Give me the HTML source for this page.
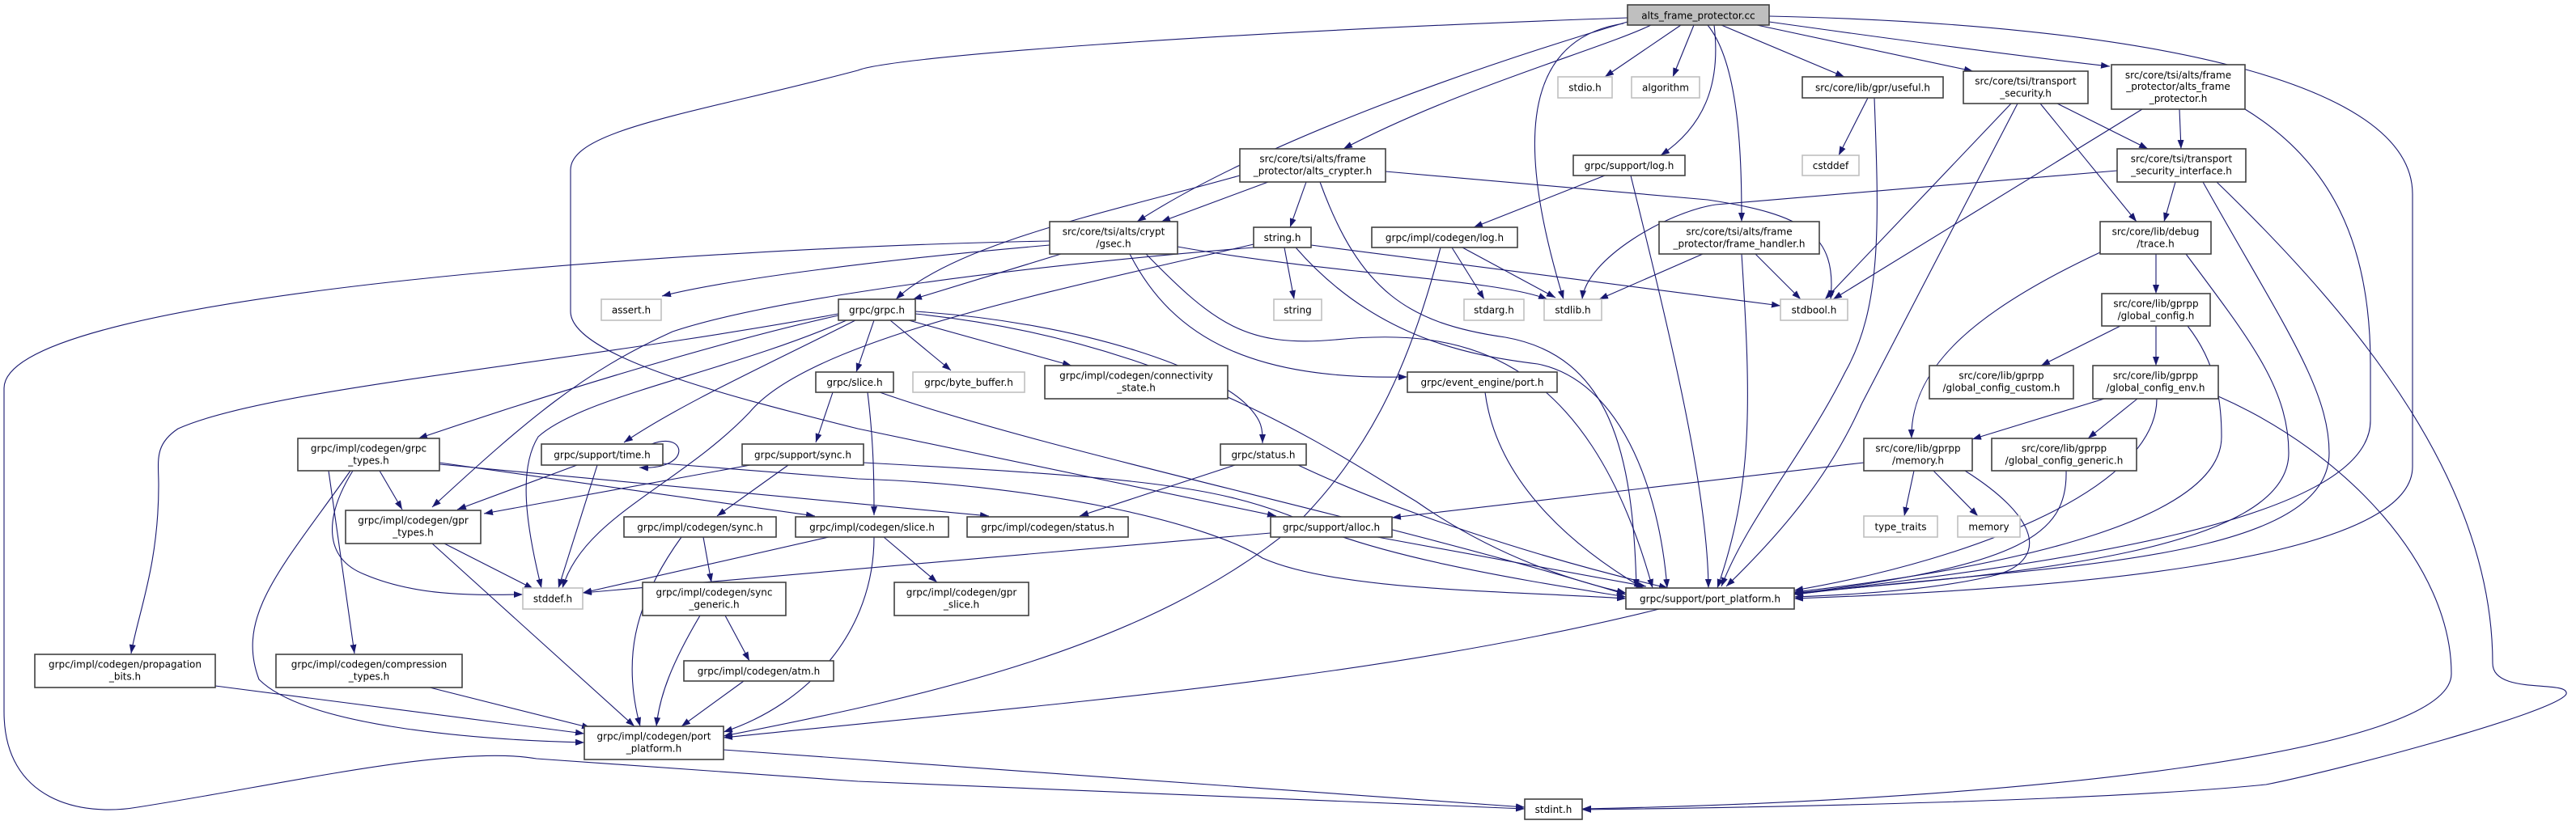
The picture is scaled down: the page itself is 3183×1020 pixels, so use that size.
<!DOCTYPE html>
<html><head><meta charset="utf-8"><style>
html,body{margin:0;padding:0;background:#fff;}
svg{display:block;}
text{font-family:"DejaVu Sans","Liberation Sans",sans-serif;font-size:12px;fill:#000;text-anchor:middle;}
.n{fill:#fff;stroke:#404040;stroke-width:1.6;}
.g{fill:#fff;stroke:#bfbfbf;stroke-width:1.6;}
.e{fill:none;stroke:#191970;stroke-width:1.1;marker-end:url(#a);}
</style></head><body>
<svg width="3183" height="1020" viewBox="0 0 3183 1020" xmlns="http://www.w3.org/2000/svg">
<defs><marker id="a" markerUnits="userSpaceOnUse" markerWidth="11" markerHeight="8" refX="11" refY="4" orient="auto"><path d="M0,0 L11,4 L0,8 z" fill="#191970"/></marker></defs>
<g>
<path class="e" d="M2077,31 L1983,95"/>
<path class="e" d="M2093,31 L2067,95"/>
<path class="e" d="M2040,31 C1980,60 1800,110 1660,184"/>
<path class="e" d="M2011,27 C1800,90 1550,180 1405,274"/>
<path class="e" d="M2118,31 C2125,90 2115,150 2052,192"/>
<path class="e" d="M2006,29 C1870,50 1880,200 1932,370"/>
<path class="e" d="M2127,31 L2279,95"/>
<path class="e" d="M2171,31 L2438,88"/>
<path class="e" d="M2186,27 C2350,50 2500,70 2607,82"/>
<path class="e" d="M2110,31 C2150,80 2152,200 2152,274"/>
<path class="e" d="M2186,20 C2650,30 2981,100 2981,240 L2981,577 C2981,700 2500,730 2217,740"/>
<path class="e" d="M2011,22 C1500,40 1100,70 1060,87 C860,140 705,160 705,210 L705,385 C705,440 900,490 1060,530 L1577,638"/>
<path class="e" d="M1567,225 L1435,274"/>
<path class="e" d="M1532,217 C1380,260 1180,300 1107,370"/>
<path class="e" d="M1614,225 L1594,281"/>
<path class="e" d="M1712,212 L2110,247 C2230,265 2270,290 2262,370"/>
<path class="e" d="M1631,225 C1680,360 1740,400 1860,417 C1990,440 2018,560 2022,727"/>
<path class="e" d="M1297,298 C900,305 5,360 5,480 L5,880 C5,990 100,1010 170,998 C350,970 560,920 663,938 L1060,966 L1884,1000"/>
<path class="e" d="M1297,303 C1100,320 900,345 818,366"/>
<path class="e" d="M1311,314 L1128,370"/>
<path class="e" d="M1455,305 C1650,340 1850,345 1912,370"/>
<path class="e" d="M1396,314 C1450,420 1550,470 1739,466"/>
<path class="e" d="M1416,314 C1500,400 1540,430 1650,420 C1800,405 1960,430 2042,727"/>
<path class="e" d="M1587,306 L1599,370"/>
<path class="e" d="M1549,302 C1300,360 1000,420 926,510 C840,600 720,640 695,727"/>
<path class="e" d="M1549,306 C1250,330 950,370 831,410 C720,460 650,520 534,627"/>
<path class="e" d="M1620,303 L2200,378"/>
<path class="e" d="M1601,306 C1700,420 1820,440 1900,450 C2000,470 2050,600 2060,727"/>
<path class="e" d="M1794,306 L1834,370"/>
<path class="e" d="M1807,306 L1922,368"/>
<path class="e" d="M1780,306 C1740,460 1690,560 1600,650 C1420,800 1150,860 894,910"/>
<path class="e" d="M1983,217 L1821,281"/>
<path class="e" d="M2015,217 C2060,400 2110,600 2111,727"/>
<path class="e" d="M2104,314 L1976,370"/>
<path class="e" d="M2169,314 L2225,370"/>
<path class="e" d="M2152,314 C2164,500 2166,600 2122,727"/>
<path class="e" d="M2308,121 L2272,192"/>
<path class="e" d="M2316,121 C2322,280 2325,380 2280,460 C2230,560 2160,640 2127,725"/>
<path class="e" d="M2485,128 L2255,370"/>
<path class="e" d="M2493,128 L2300,500 C2260,590 2200,660 2133,725"/>
<path class="e" d="M2542,128 L2654,184"/>
<path class="e" d="M2521,128 L2640,274"/>
<path class="e" d="M2647,135 L2265,370"/>
<path class="e" d="M2693,135 L2695,184"/>
<path class="e" d="M2774,135 C2880,200 2929,300 2929,450 L2929,520 C2929,650 2500,700 2217,735"/>
<path class="e" d="M2616,211 L2120,253 C2060,262 1960,320 1955,370"/>
<path class="e" d="M2688,225 L2674,274"/>
<path class="e" d="M2722,225 C2820,400 2878,480 2878,560 C2878,700 2500,700 2217,735"/>
<path class="e" d="M2739,225 C2920,400 3080,600 3080,820 C3080,860 3175,840 3171,858 C3160,880 2900,950 2800,970 C2600,990 2200,998 1955,1001"/>
<path class="e" d="M2741,490 C2900,560 3029,700 3029,833 C3029,930 2500,990 1955,1000"/>
<path class="e" d="M2664,314 L2664,363"/>
<path class="e" d="M2595,312 C2450,380 2360,450 2362,542"/>
<path class="e" d="M2701,314 C2780,420 2828,480 2828,560 C2828,680 2500,710 2217,733"/>
<path class="e" d="M2620,403 L2522,452"/>
<path class="e" d="M2664,403 L2664,452"/>
<path class="e" d="M2703,403 C2740,450 2745,500 2745,540 C2745,640 2500,700 2217,732"/>
<path class="e" d="M2600,493 L2437,543"/>
<path class="e" d="M2641,493 L2580,542"/>
<path class="e" d="M2665,493 C2665,600 2450,690 2217,730"/>
<path class="e" d="M2303,572 L1720,640"/>
<path class="e" d="M2365,582 L2353,638"/>
<path class="e" d="M2389,582 L2444,638"/>
<path class="e" d="M2428,582 C2520,640 2530,690 2470,710 C2400,728 2300,735 2217,738"/>
<path class="e" d="M2553,582 C2555,660 2500,700 2217,734"/>
<path class="e" d="M1036,390 C900,420 700,480 517,542"/>
<path class="e" d="M1046,396 C900,460 720,490 665,540 C640,580 650,650 669,727"/>
<path class="e" d="M1057,396 C950,450 840,500 771,547"/>
<path class="e" d="M1080,396 L1058,460"/>
<path class="e" d="M1100,396 L1175,458"/>
<path class="e" d="M1123,396 L1324,452"/>
<path class="e" d="M1131,385 C1350,400 1500,460 1540,500 C1560,520 1560,530 1560,548"/>
<path class="e" d="M1131,388 C1450,420 1650,560 1750,620 C1850,690 1950,720 2009,733"/>
<path class="e" d="M1036,388 C700,450 330,480 220,530 C190,550 196,570 196,600 C196,700 170,760 162,808"/>
<path class="e" d="M1029,485 L1008,547"/>
<path class="e" d="M1072,485 C1080,550 1080,600 1080,637"/>
<path class="e" d="M1087,485 C1300,560 1700,640 2009,735"/>
<path class="e" d="M927,575 L598,635"/>
<path class="e" d="M974,575 L886,638"/>
<path class="e" d="M1067,572 C1400,590 1500,600 1600,640 C1700,690 1900,720 2009,738"/>
<path class="e" d="M805,549 C850,532 855,582 790,578"/>
<path class="e" d="M713,575 L565,630"/>
<path class="e" d="M738,575 L690,727"/>
<path class="e" d="M819,573 L1060,592 C1300,600 1500,650 1560,690 C1650,730 1850,730 2009,740"/>
<path class="e" d="M469,582 L497,630"/>
<path class="e" d="M436,582 C400,640 400,690 450,710 C520,740 600,735 646,735"/>
<path class="e" d="M406,582 L438,808"/>
<path class="e" d="M433,582 C350,700 290,760 320,840 C380,900 600,915 722,918"/>
<path class="e" d="M543,572 L1007,638"/>
<path class="e" d="M543,574 L1222,638"/>
<path class="e" d="M549,672 L659,728"/>
<path class="e" d="M534,672 L784,898"/>
<path class="e" d="M869,664 L879,720"/>
<path class="e" d="M842,664 C780,750 770,820 791,898"/>
<path class="e" d="M1024,664 L720,733"/>
<path class="e" d="M1092,664 L1158,720"/>
<path class="e" d="M1080,664 C1080,780 1000,870 894,905"/>
<path class="e" d="M896,761 L926,817"/>
<path class="e" d="M865,761 C830,820 815,860 811,898"/>
<path class="e" d="M919,842 L842,898"/>
<path class="e" d="M266,848 L722,907"/>
<path class="e" d="M531,850 L730,900"/>
<path class="e" d="M894,927 L1884,998"/>
<path class="e" d="M1835,485 C1850,600 1950,680 2030,727"/>
<path class="e" d="M1526,575 L1334,638"/>
<path class="e" d="M1604,575 C1720,630 1900,690 2061,727"/>
<path class="e" d="M1570,659 L720,733"/>
<path class="e" d="M1702,664 L2034,725"/>
<path class="e" d="M2050,753 C1700,840 1300,870 894,912"/>
</g>
<g>
<rect x="2011" y="6" width="175" height="25" fill="#bfbfbf" stroke="#404040" stroke-width="1.6"/><text x="2098.5" y="23.5">alts_frame_protector.cc</text>
<rect class="g" x="1925" y="95" width="67" height="26"/><text x="1958.5" y="112.5">stdio.h</text>
<rect class="g" x="2016" y="95" width="84" height="26"/><text x="2058" y="112.5">algorithm</text>
<rect class="n" x="2227" y="95" width="174" height="26"/><text x="2314" y="112.5">src/core/lib/gpr/useful.h</text>
<rect class="n" x="2426" y="88" width="154" height="40"/><text x="2503" y="104.5">src/core/tsi/transport</text><text x="2503" y="119.5">_security.h</text>
<rect class="n" x="2609" y="80" width="165" height="55"/><text x="2691.5" y="97">src/core/tsi/alts/frame</text><text x="2691.5" y="111">_protector/alts_frame</text><text x="2691.5" y="126">_protector.h</text>
<rect class="n" x="1532" y="184" width="180" height="41"/><text x="1622" y="200.5">src/core/tsi/alts/frame</text><text x="1622" y="215.5">_protector/alts_crypter.h</text>
<rect class="n" x="1944" y="192" width="138" height="25"/><text x="2013" y="209">grpc/support/log.h</text>
<rect class="g" x="2227" y="192" width="70" height="25"/><text x="2262" y="209">cstddef</text>
<rect class="n" x="2616" y="184" width="159" height="41"/><text x="2695.5" y="200.5">src/core/tsi/transport</text><text x="2695.5" y="215.5">_security_interface.h</text>
<rect class="n" x="1297" y="274" width="158" height="40"/><text x="1376" y="290.5">src/core/tsi/alts/crypt</text><text x="1376" y="305.5">/gsec.h</text>
<rect class="n" x="1549" y="281" width="71" height="25"/><text x="1584.5" y="298">string.h</text>
<rect class="n" x="1695" y="281" width="180" height="25"/><text x="1785" y="298">grpc/impl/codegen/log.h</text>
<rect class="n" x="2050" y="274" width="198" height="40"/><text x="2149" y="290.5">src/core/tsi/alts/frame</text><text x="2149" y="305.5">_protector/frame_handler.h</text>
<rect class="n" x="2595" y="274" width="137" height="40"/><text x="2663.5" y="290.5">src/core/lib/debug</text><text x="2663.5" y="305.5">/trace.h</text>
<rect class="g" x="743" y="370" width="74" height="26"/><text x="780" y="387.5">assert.h</text>
<rect class="n" x="1036" y="370" width="95" height="26"/><text x="1083.5" y="387.5">grpc/grpc.h</text>
<rect class="g" x="1574" y="370" width="59" height="26"/><text x="1603.5" y="387.5">string</text>
<rect class="g" x="1809" y="370" width="74" height="26"/><text x="1846" y="387.5">stdarg.h</text>
<rect class="g" x="1908" y="370" width="71" height="26"/><text x="1943.5" y="387.5">stdlib.h</text>
<rect class="g" x="2200" y="370" width="83" height="26"/><text x="2241.5" y="387.5">stdbool.h</text>
<rect class="n" x="2597" y="363" width="134" height="40"/><text x="2664" y="379.5">src/core/lib/gprpp</text><text x="2664" y="394.5">/global_config.h</text>
<rect class="n" x="1008" y="460" width="96" height="25"/><text x="1056" y="477">grpc/slice.h</text>
<rect class="g" x="1128" y="460" width="138" height="25"/><text x="1197" y="477">grpc/byte_buffer.h</text>
<rect class="n" x="1291" y="452" width="226" height="41"/><text x="1404" y="468.5">grpc/impl/codegen/connectivity</text><text x="1404" y="483.5">_state.h</text>
<rect class="n" x="1739" y="460" width="185" height="25"/><text x="1831.5" y="477">grpc/event_engine/port.h</text>
<rect class="n" x="2384" y="452" width="178" height="41"/><text x="2473" y="468.5">src/core/lib/gprpp</text><text x="2473" y="483.5">/global_config_custom.h</text>
<rect class="n" x="2586" y="452" width="155" height="41"/><text x="2663.5" y="468.5">src/core/lib/gprpp</text><text x="2663.5" y="483.5">/global_config_env.h</text>
<rect class="n" x="368" y="542" width="175" height="40"/><text x="455.5" y="558.5">grpc/impl/codegen/grpc</text><text x="455.5" y="573.5">_types.h</text>
<rect class="n" x="669" y="549" width="150" height="26"/><text x="744" y="566.5">grpc/support/time.h</text>
<rect class="n" x="917" y="549" width="150" height="26"/><text x="992" y="566.5">grpc/support/sync.h</text>
<rect class="n" x="1508" y="549" width="106" height="26"/><text x="1561" y="566.5">grpc/status.h</text>
<rect class="n" x="2303" y="542" width="134" height="40"/><text x="2370" y="558.5">src/core/lib/gprpp</text><text x="2370" y="573.5">/memory.h</text>
<rect class="n" x="2461" y="542" width="179" height="40"/><text x="2550.5" y="558.5">src/core/lib/gprpp</text><text x="2550.5" y="573.5">/global_config_generic.h</text>
<rect class="n" x="427" y="631" width="167" height="41"/><text x="510.5" y="647.5">grpc/impl/codegen/gpr</text><text x="510.5" y="662.5">_types.h</text>
<rect class="n" x="771" y="639" width="188" height="25"/><text x="865" y="656">grpc/impl/codegen/sync.h</text>
<rect class="n" x="983" y="639" width="189" height="25"/><text x="1077.5" y="656">grpc/impl/codegen/slice.h</text>
<rect class="n" x="1195" y="639" width="199" height="25"/><text x="1294.5" y="656">grpc/impl/codegen/status.h</text>
<rect class="n" x="1570" y="639" width="150" height="25"/><text x="1645" y="656">grpc/support/alloc.h</text>
<rect class="g" x="2303" y="638" width="91" height="26"/><text x="2348.5" y="655.5">type_traits</text>
<rect class="g" x="2419" y="638" width="77" height="26"/><text x="2457.5" y="655.5">memory</text>
<rect class="g" x="646" y="727" width="74" height="26"/><text x="683" y="744.5">stddef.h</text>
<rect class="n" x="794" y="720" width="177" height="41"/><text x="882.5" y="736.5">grpc/impl/codegen/sync</text><text x="882.5" y="751.5">_generic.h</text>
<rect class="n" x="1105" y="720" width="166" height="41"/><text x="1188" y="736.5">grpc/impl/codegen/gpr</text><text x="1188" y="751.5">_slice.h</text>
<rect class="n" x="2009" y="727" width="208" height="26"/><text x="2113" y="744.5">grpc/support/port_platform.h</text>
<rect class="n" x="43" y="809" width="223" height="41"/><text x="154.5" y="825.5">grpc/impl/codegen/propagation</text><text x="154.5" y="840.5">_bits.h</text>
<rect class="n" x="341" y="809" width="230" height="41"/><text x="456" y="825.5">grpc/impl/codegen/compression</text><text x="456" y="840.5">_types.h</text>
<rect class="n" x="845" y="817" width="185" height="25"/><text x="937.5" y="834">grpc/impl/codegen/atm.h</text>
<rect class="n" x="722" y="898" width="172" height="41"/><text x="808" y="914.5">grpc/impl/codegen/port</text><text x="808" y="929.5">_platform.h</text>
<rect class="n" x="1884" y="988" width="71" height="25"/><text x="1919.5" y="1005">stdint.h</text>
</g>
</svg>
</body></html>
